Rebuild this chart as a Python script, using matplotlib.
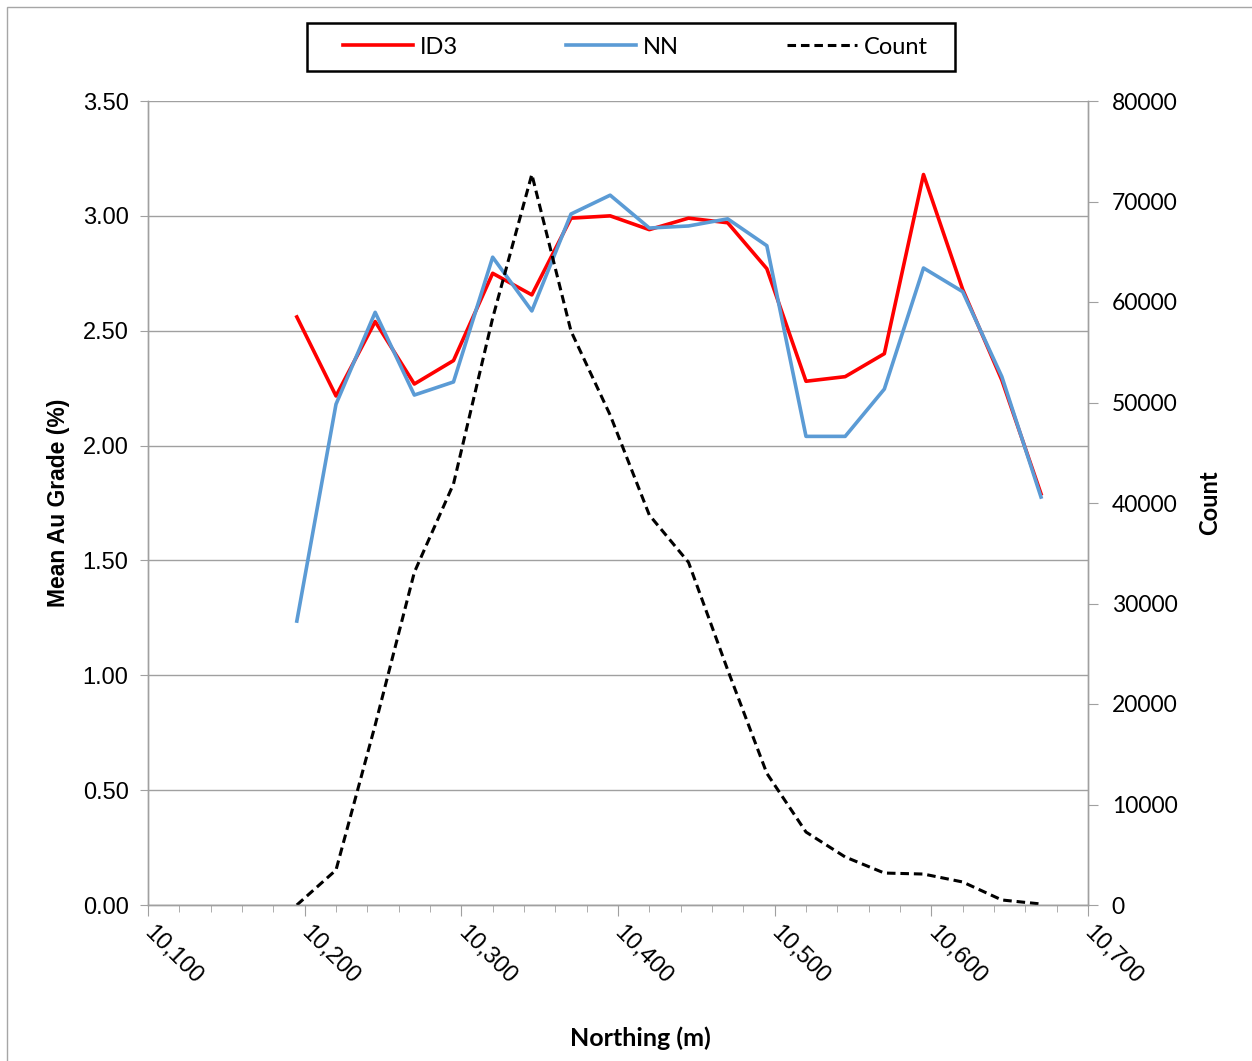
import matplotlib
matplotlib.use("Agg")
import matplotlib.pyplot as plt
from matplotlib.ticker import MultipleLocator, FuncFormatter
from matplotlib.patches import Rectangle

# Northing bins (m)
northing = [10195, 10220, 10245, 10270, 10295, 10320, 10345, 10370, 10395, 10420,
            10445, 10470, 10495, 10520, 10545, 10570, 10595, 10620, 10645, 10670]

# Mean Au grade (%) by estimation method
id3 = [2.56, 2.216, 2.54, 2.268, 2.37, 2.75, 2.656, 2.99, 3.00, 2.94,
       2.99, 2.97, 2.77, 2.28, 2.30, 2.40, 3.18, 2.68, 2.285, 1.79]
nn = [1.236, 2.18, 2.58, 2.22, 2.277, 2.82, 2.586, 3.008, 3.09, 2.947,
      2.956, 2.987, 2.87, 2.04, 2.04, 2.246, 2.773, 2.67, 2.30, 1.776]

# Block count per bin
count = [0, 3480, 17900, 33100, 41900, 58400, 72700, 57100, 48750, 38800,
         34100, 23400, 13100, 7260, 4780, 3180, 3080, 2290, 500, 100]

W, H = 1252, 1061
fig = plt.figure(figsize=(W / 100, H / 100), dpi=100)
ax = fig.add_axes([148 / W, 1 - 905 / H, (1088 - 148) / W, (905 - 101) / H])
ax2 = ax.twinx()

grid_c = "#A0A0A0"
ax.set_xlim(10100, 10700)
ax.set_ylim(0, 3.5)
ax2.set_ylim(0, 80000)

ax.yaxis.set_major_locator(MultipleLocator(0.5))
ax.yaxis.set_major_formatter(FuncFormatter(lambda v, p: f"{v:.2f}"))
ax.xaxis.set_major_locator(MultipleLocator(100))
ax.xaxis.set_minor_locator(MultipleLocator(20))
ax.xaxis.set_major_formatter(FuncFormatter(lambda v, p: f"{int(v):,}"))
ax2.yaxis.set_major_locator(MultipleLocator(10000))
ax2.yaxis.set_major_formatter(FuncFormatter(lambda v, p: f"{int(v)}"))

ax.grid(axis="y", color=grid_c, lw=1.0)
ax.set_axisbelow(True)
for a in (ax, ax2):
    for s in a.spines.values():
        s.set_color(grid_c)
        s.set_linewidth(1.0)
    a.spines["top"].set_visible(False)

ax.tick_params(axis="y", direction="out", length=6, color=grid_c, labelsize=17, pad=8)
ax.tick_params(axis="x", which="major", direction="out", length=8, color=grid_c, labelsize=17, pad=10)
ax.tick_params(axis="x", which="minor", direction="out", length=5, color=grid_c)
ax2.tick_params(axis="y", direction="out", length=7, color=grid_c, labelsize=16.5, pad=10)
for t in ax.get_yticklabels() + ax.get_xticklabels():
    t.set_fontfamily("Liberation Sans")
for t in ax2.get_yticklabels():
    t.set_fontfamily("Lato")
for t in ax.get_xticklabels():
    t.set_rotation(-45)
    t.set_ha("left")
    t.set_va("center")
    t.set_rotation_mode("anchor")

l1, = ax.plot(northing, id3, color="#FF0000", lw=2.6, label="ID3", zorder=3)
l2, = ax.plot(northing, nn, color="#5B9BD5", lw=2.6, label="NN", zorder=3)
l3, = ax2.plot(northing, count, color="black", lw=2.2, ls=(0, (2.8, 1.6)), label="Count")

ax.set_ylabel("Mean Au Grade (%)", fontsize=16.5, fontweight="bold", family="Liberation Sans")
ax.yaxis.set_label_coords((70 - 148) / 940, 0.5)
ax2.set_ylabel("Count", fontsize=17, fontweight="bold", family="Lato", rotation=90)
ax2.yaxis.set_label_coords((1198 - 148) / 940, 0.5)
ax.set_xlabel("Northing (m)", fontsize=18, fontweight="bold", family="Lato")
ax.xaxis.set_label_coords((640 - 148) / 940, (905 - 1026) / 804)

# Legend entries inside a separately drawn frame
fs = 17
px_per_em = fs * 100 / 72
leg = fig.legend(handles=[l1, l2, l3], loc="center left", ncol=3,
                 bbox_to_anchor=(343 / W, 1 - 47 / H), frameon=False,
                 handlelength=70 / px_per_em, handletextpad=7 / px_per_em,
                 columnspacing=108 / px_per_em, borderpad=0, borderaxespad=0,
                 prop={"family": "Lato", "size": fs})
fig.patches.append(Rectangle((307 / W, 1 - 71 / H), (955 - 307) / W, 48 / H,
                             transform=fig.transFigure, fill=False,
                             edgecolor="black", lw=1.8))

fig.patches.append(Rectangle((7 / W, -0.01), 1.0, 1 - 7 / H + 0.01,
                             transform=fig.transFigure, fill=False,
                             edgecolor="#A6A6A6", lw=1.0))

fig.savefig("out.png", dpi=100)
